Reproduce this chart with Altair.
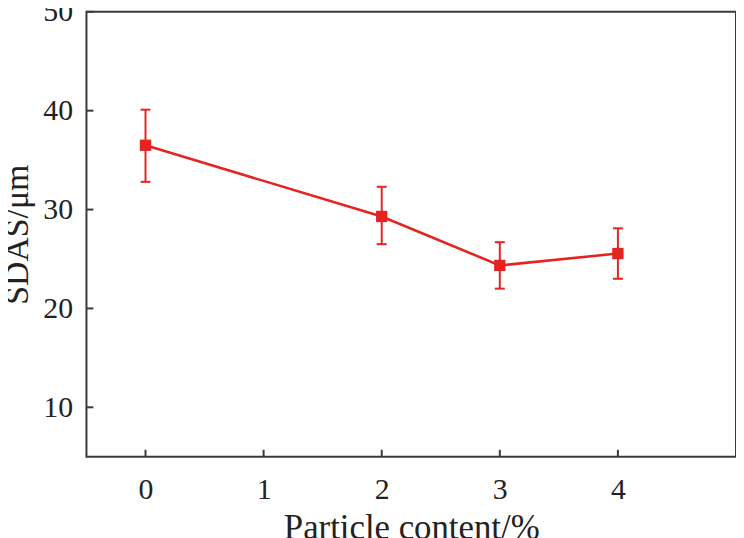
import altair as alt
import pandas as pd

content = [0, 2, 3, 4]
sdas = [36.5, 29.3, 24.35, 25.55]
err_low = [32.8, 26.5, 22.0, 23.0]
err_high = [40.1, 32.3, 26.7, 28.1]

x_ticks = [0, 1, 2, 3, 4]
y_ticks = [10, 20, 30, 40, 50]

W, H = 654, 448
RED = "#e52421"
AX = "#3a3a3a"
FONT = "Liberation Serif"

df = pd.DataFrame({"content": content, "sdas": sdas, "low": err_low, "high": err_high})
xt = pd.DataFrame({"v": x_ticks})
yt = pd.DataFrame({"v": y_ticks})

xscale = alt.Scale(domain=[-0.5, 5], nice=False, zero=False)
yscale = alt.Scale(domain=[5, 50], nice=False, zero=False)

xenc = alt.X("content:Q", scale=xscale,
             axis=alt.Axis(values=x_ticks, title="Particle content/%", format="d",
                           ticks=False, domain=False, grid=False,
                           labelFont=FONT, labelFontSize=30, labelColor="#222",
                           labelPadding=18, titleFont=FONT, titleFontSize=35,
                           titleFontWeight="normal", titleColor="#222", titlePadding=6))
yenc = alt.Y("sdas:Q", scale=yscale,
             axis=alt.Axis(values=y_ticks, title="SDAS/μm", format="d",
                           ticks=False, domain=False, grid=False,
                           labelFont=FONT, labelFontSize=30, labelColor="#222",
                           labelPadding=14, titleFont=FONT, titleFontSize=34,
                           titleFontWeight="normal", titleColor="#222", titlePadding=8))

base = alt.Chart(df)
line = base.mark_line(color=RED, strokeWidth=2.6).encode(x=xenc, y=yenc)
pts = base.mark_square(color=RED, size=130, opacity=1).encode(
    x=alt.X("content:Q", scale=xscale), y=alt.Y("sdas:Q", scale=yscale))
rule = base.mark_rule(color=RED, strokeWidth=2).encode(
    x=alt.X("content:Q", scale=xscale), y=alt.Y("low:Q", scale=yscale), y2="high:Q")
cap_lo = base.mark_tick(color=RED, orient="horizontal", size=10, thickness=2, opacity=1).encode(
    x=alt.X("content:Q", scale=xscale), y=alt.Y("low:Q", scale=yscale))
cap_hi = base.mark_tick(color=RED, orient="horizontal", size=10, thickness=2, opacity=1).encode(
    x=alt.X("content:Q", scale=xscale), y=alt.Y("high:Q", scale=yscale))

xtk = alt.Chart(xt).mark_rule(color=AX, strokeWidth=2).encode(
    x=alt.X("v:Q", scale=xscale), y=alt.value(H), y2=alt.value(H - 7))
ytk = alt.Chart(yt).mark_rule(color=AX, strokeWidth=2).encode(
    y=alt.Y("v:Q", scale=yscale), x=alt.value(0), x2=alt.value(7))

chart = alt.layer(line, rule, cap_lo, cap_hi, pts, xtk, ytk).properties(
    width=W, height=H,
    autosize=alt.AutoSizeParams(type="none"),
    padding={"left": 79, "top": 2, "right": 0, "bottom": 80},
).configure(background="white").configure_view(stroke=AX, strokeWidth=2)

chart.save("out.html", embed_options={"renderer": "svg", "actions": False})
